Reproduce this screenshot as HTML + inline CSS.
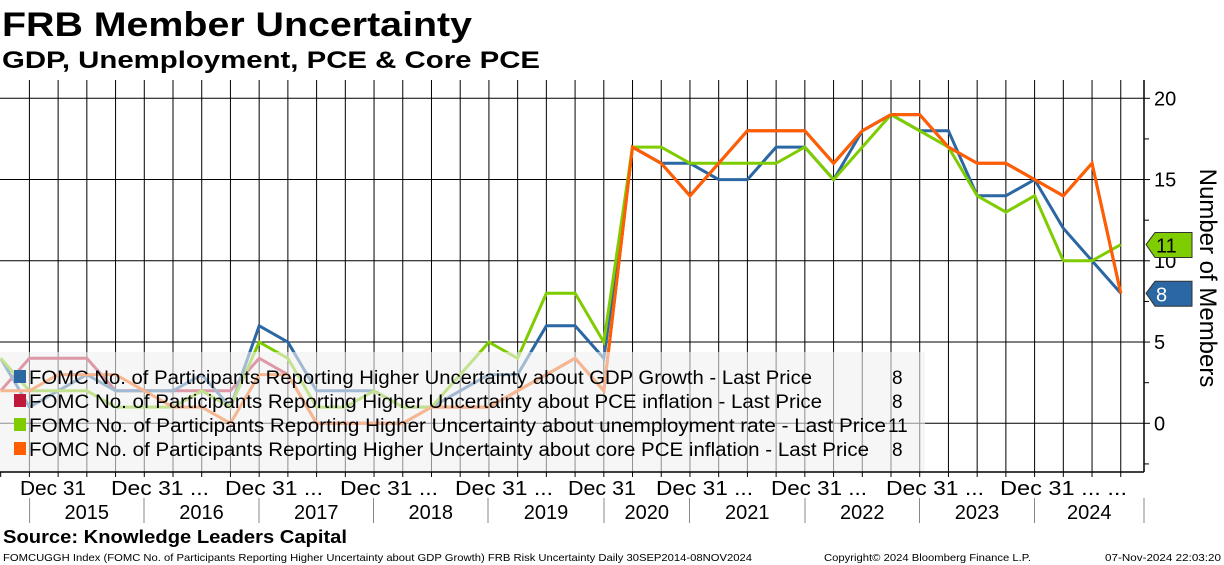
<!DOCTYPE html>
<html><head><meta charset="utf-8"><style>
body{margin:0;background:#fff;}
svg{display:block;font-family:"Liberation Sans","DejaVu Sans",sans-serif;}
</style></head><body>
<svg id="chart" width="1224" height="565" viewBox="0 0 1224 565">
<text x="2" y="36" font-size="34" font-weight="bold" textLength="470" lengthAdjust="spacingAndGlyphs">FRB Member Uncertainty</text>
<text x="2" y="68" font-size="24" font-weight="bold" textLength="538" lengthAdjust="spacingAndGlyphs">GDP, Unemployment, PCE &amp; Core PCE</text>
<g id="grid"></g>
<g id="series"></g>
<g id="legend"></g>
<g id="axes"></g>
<text x="3" y="543" font-size="18" font-weight="bold" textLength="344" lengthAdjust="spacingAndGlyphs">Source: Knowledge Leaders Capital</text>
<text x="3" y="561" font-size="10.5" textLength="749" lengthAdjust="spacingAndGlyphs">FOMCUGGH Index (FOMC No. of Participants Reporting Higher Uncertainty about GDP Growth) FRB Risk Uncertainty  Daily 30SEP2014-08NOV2024</text>
<text x="824" y="561" font-size="10.5" textLength="207" lengthAdjust="spacingAndGlyphs">Copyright© 2024 Bloomberg Finance L.P.</text>
<text x="1105" y="561" font-size="10.5" textLength="116" lengthAdjust="spacingAndGlyphs">07-Nov-2024 22:03:20</text>
</svg>
<script>
const gdpValues=[4,1,2,3,2,2,2,3,1,6,5,2,2,2,1,1,2,3,3,6,6,4,17,16,16,15,15,17,17,15,18,19,18,18,14,14,15,12,10,8];
const pceValues=[2,4,4,4,2,2,2,2,2,4,3,0,0,0,0,1,1,1,2,3,4,2,17,16,14,16,18,18,18,16,18,19,19,17,16,16,15,14,16,8];
const unemploymentValues=[4,2,2,2,1,1,1,2,1,5,4,1,1,2,1,1,3,5,4,8,8,5,17,17,16,16,16,16,17,15,17,19,18,17,14,13,14,10,10,11];
const corePceValues=[2,2,3,3,3,2,1,1,0,3,3,0,0,0,0,1,1,1,2,3,4,2,17,16,14,16,18,18,18,16,18,19,19,17,16,16,15,14,16,8];
const yTicks=[0,5,10,15,20];
const yearLabels=["2015","2016","2017","2018","2019","2020","2021","2022","2023","2024"];
const legendLabels=["FOMC No. of Participants Reporting Higher Uncertainty about GDP Growth - Last Price","FOMC No. of Participants Reporting Higher Uncertainty about PCE inflation - Last Price","FOMC No. of Participants Reporting Higher Uncertainty about unemployment rate - Last Price","FOMC No. of Participants Reporting Higher Uncertainty about core PCE inflation - Last Price"];
const legendLast=["8","8","11","8"];

const NS="http://www.w3.org/2000/svg";
const X0=0.68,DX=28.72,Y0=423.3,DY=16.25,TOP=80,BOT=472,AXX=1144;
function xs(i){return X0+DX*i;}
function ys(v){return Y0-DY*v;}
function mk(tag,attrs,parent){const e=document.createElementNS(NS,tag);for(const k in attrs)e.setAttribute(k,attrs[k]);parent.appendChild(e);return e;}
const grid=document.getElementById('grid'),ser=document.getElementById('series'),leg=document.getElementById('legend'),ax=document.getElementById('axes');
for(let k=1;k<=39;k++){const l=mk('line',{x1:xs(k),x2:xs(k),y1:TOP,y2:BOT,stroke:'#000','stroke-width':1},grid);

}
yTicks.forEach(t=>{const l=mk('line',{x1:0,x2:AXX,y1:ys(t),y2:ys(t),stroke:'#000','stroke-width':1},grid);

});
const series=[[pceValues,'#c0183a','pce-line'],[gdpValues,'#2b67a3','gdp-line'],[unemploymentValues,'#7fcc00','unemployment-line'],[corePceValues,'#ff5f00','core-pce-line']];
series.forEach(s=>{const pts=s[0].map((v,i)=>xs(i).toFixed(1)+','+ys(v).toFixed(1)).join(' ');
const p=mk('polyline',{points:pts,fill:'none',stroke:s[1],'stroke-width':3,'stroke-linejoin':'miter'},ser);

});
const lb=mk('rect',{x:0,y:352,width:925,height:120,fill:'rgba(240,240,240,0.6)'},leg);


const lcolors=['#2b67a3','#c0183a','#7fcc00','#ff5f00'];
const lends=[812,822,886,869];
const vx=[892,892,888,892];
legendLabels.forEach((t,i)=>{const cy=377+i*24;
const sq=mk('rect',{x:14,y:cy-7,width:12,height:13,fill:lcolors[i]},leg);


const tx=mk('text',{x:29,y:cy+7,'font-size':19,textLength:lends[i]-29,lengthAdjust:'spacingAndGlyphs'},leg);tx.textContent=t;


const tv=mk('text',{x:vx[i],y:cy+7,'font-size':19},leg);tv.textContent=legendLast[i];

});
const ra=mk('line',{x1:AXX,x2:AXX,y1:TOP,y2:BOT,stroke:'#000','stroke-width':1.5},ax);


const ba=mk('line',{x1:0,x2:AXX,y1:BOT,y2:BOT,stroke:'#000','stroke-width':1.5},ax);


for(let v=-2.5;v<=20.1;v+=2.5){const major=yTicks.includes(v);
const t=mk('line',{x1:AXX,x2:AXX+(major?6:5),y1:ys(v),y2:ys(v),stroke:'#000','stroke-width':1},ax);

}
yTicks.forEach(t=>{const tx=mk('text',{x:1154,y:ys(t)+7,'font-size':20},ax);tx.textContent=t;

});
const yt=mk('text',{x:0,y:0,'font-size':24,'text-anchor':'middle',transform:'translate(1200,278) rotate(90)'},ax);yt.textContent='Number of Members';


for(let k=0;k<=39;k++){const t=mk('line',{x1:xs(k),x2:xs(k),y1:BOT,y2:BOT+5,stroke:'#000','stroke-width':1},ax);

}
const decLabels=[[20,86,'Dec 31'],[111,209,'Dec 31 ...'],[225,323,'Dec 31 ...'],[340,438,'Dec 31 ...'],[455,553,'Dec 31 ...'],[568,636,'Dec 31'],[656,753,'Dec 31 ...'],[771,867,'Dec 31 ...'],[886,984,'Dec 31 ...'],[1000,1127,'Dec 31 ... ...']];
decLabels.forEach(d=>{const t=mk('text',{x:d[0],y:495,'font-size':20,textLength:d[1]-d[0],lengthAdjust:'spacingAndGlyphs'},ax);t.textContent=d[2];

});
const sepX=[29.6,144,259,373.5,488,604,689.5,805,919.5,1034.5,1144];
for(let i=0;i<sepX.length;i++){const l=mk('line',{x1:sepX[i],x2:sepX[i],y1:498,y2:523,stroke:'#888','stroke-width':1},ax);

}
yearLabels.forEach((y,i)=>{const t=mk('text',{x:(sepX[i]+sepX[i+1])/2,y:519,'font-size':20,'text-anchor':'middle'},ax);t.textContent=y;

});
function tag(v,fill,txtc,label,name){const y=ys(v);
const p=mk('path',{d:`M1146 ${y} L1155 ${y-12} L1192 ${y-12} L1192 ${y+13} L1155 ${y+13} Z`,fill:fill,stroke:'#333','stroke-width':1},ax);


const t=mk('text',{x:1156,y:y+8,'font-size':20,fill:txtc},ax);t.textContent=label;

}
tag(unemploymentValues[unemploymentValues.length-1],'#7fcc00','#000',String(unemploymentValues[unemploymentValues.length-1]),'unemployment-last-tag');
tag(gdpValues[gdpValues.length-1],'#2b67a3','#fff',String(gdpValues[gdpValues.length-1]),'gdp-last-tag');
</script>
</body></html>
